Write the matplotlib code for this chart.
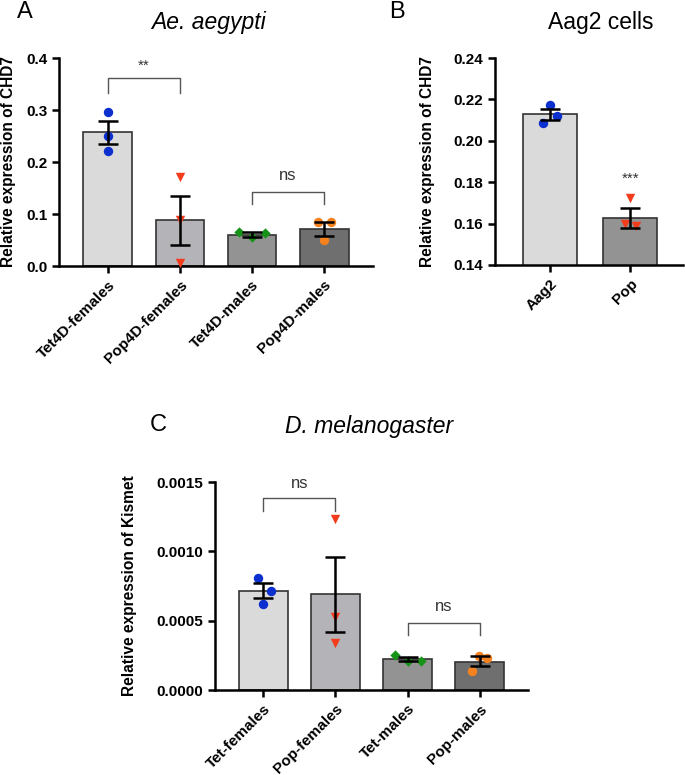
import matplotlib
matplotlib.use("Agg")
import matplotlib.pyplot as plt

plt.rcParams['font.family'] = ['Liberation Sans', 'DejaVu Sans']

# ---------------- data ----------------
# Panel A: Ae. aegypti
a_labels = ["Tet4D-females", "Pop4D-females", "Tet4D-males", "Pop4D-males"]
a_means = [0.257, 0.088, 0.060, 0.071]
a_sem_lo = [0.234, 0.041, 0.056, 0.058]
a_sem_hi = [0.278, 0.134, 0.065, 0.084]
a_points = [[0.297, 0.250, 0.222],
            [0.172, 0.088, 0.005],
            [0.066, 0.055, 0.064],
            [0.084, 0.084, 0.050]]
a_jitter = [[0, 0, 0], [0, 0, 0], [-0.18, 0, 0.18], [-0.09, 0.1, 0]]

# Panel B: Aag2 cells
b_labels = ["Aag2", "Pop"]
b_means = [0.2128, 0.1627]
b_sem_lo = [0.2100, 0.1580]
b_sem_hi = [0.2155, 0.1675]
b_points = [[0.2175, 0.2118, 0.2086],
            [0.1725, 0.1600, 0.1590]]
b_jitter = [[0, 0.08, -0.09], [0, -0.07, 0.07]]

# Panel C: D. melanogaster
c_labels = ["Tet-females", "Pop-females", "Tet-males", "Pop-males"]
c_means = [0.000714, 0.000693, 0.000224, 0.000202]
c_sem_lo = [0.00066, 0.00042, 0.000212, 0.000170]
c_sem_hi = [0.00077, 0.00096, 0.000236, 0.000242]
c_points = [[0.000808, 0.000714, 0.000620],
            [0.001234, 0.000527, 0.000339],
            [0.000250, 0.000210, 0.000212],
            [0.000245, 0.000232, 0.000137]]
c_jitter = [[-0.07, 0.1, 0], [0, 0, 0], [-0.18, 0, 0.18], [-0.01, 0.1, -0.1]]

# ---------------- style ----------------
fill4 = ["#dadada", "#b4b4b8", "#939393", "#6f6f6f"]
fill2 = ["#dadada", "#939393"]
pt_colors4 = ["#0c2fcf", "#f23c1c", "#179317", "#f5821f"]
pt_markers4 = ["o", "v", "D", "o"]
pt_sizes4 = [46, 46, 28, 46]
pt_colors2 = ["#0c2fcf", "#f23c1c"]
pt_markers2 = ["o", "v"]

W, H = 685, 775
fig = plt.figure(figsize=(W / 100, H / 100), dpi=100)


def rect(left, top, right, bottom):
    return [left / W, 1 - bottom / H, (right - left) / W, (bottom - top) / H]


def style_axes(ax):
    for s in ["top", "right"]:
        ax.spines[s].set_visible(False)
    for s in ["left", "bottom"]:
        ax.spines[s].set_linewidth(1.8)
    ax.tick_params(axis="both", direction="out", length=5, width=1.8,
                   labelsize=11)
    for lab in ax.get_yticklabels() + ax.get_xticklabels():
        lab.set_fontweight("bold")


def draw_panel(ax, labels, means, lo, hi, points, jitter, fills, colors,
               markers, sizes):
    x = list(range(len(labels)))
    ax.bar(x, means, width=0.68, color=fills, edgecolor="#333333",
           linewidth=1.2, zorder=2)
    for i in x:
        xs = [i + j for j in jitter[i]]
        ax.scatter(xs, points[i], s=sizes[i], marker=markers[i],
                   color=colors[i], zorder=3, clip_on=False, linewidths=0)
        ax.errorbar([i], [means[i]],
                    yerr=[[means[i] - lo[i]], [hi[i] - means[i]]],
                    fmt="none", ecolor="black", elinewidth=1.8,
                    capsize=7, capthick=1.8, zorder=4)
    ax.set_xticks(x)
    ax.set_xticklabels(labels, rotation=45, ha="right",
                       rotation_mode="anchor")


def bracket(ax, x1, x2, ytop, yleg, text, ytext, fs=12):
    ax.plot([x1, x1, x2, x2], [yleg, ytop, ytop, yleg], color="#555555",
            linewidth=1.0, zorder=5, clip_on=False)
    ax.text((x1 + x2) / 2, ytext, text, ha="center", va="center",
            fontsize=fs, color="#333333")


# Panel A
axA = fig.add_axes(rect(59, 58, 373, 266))
draw_panel(axA, a_labels, a_means, a_sem_lo, a_sem_hi, a_points, a_jitter,
           fill4, pt_colors4, pt_markers4, pt_sizes4)
axA.set_xlim(-0.68, 3.68)
axA.set_ylim(0, 0.4)
axA.set_yticks([0.0, 0.1, 0.2, 0.3, 0.4])
axA.set_yticklabels(["0.0", "0.1", "0.2", "0.3", "0.4"])
axA.set_ylabel("Relative expression of CHD7", fontsize=11.2,
               fontweight="bold")
axA.yaxis.set_label_coords(-0.138, 0.5)
style_axes(axA)
bracket(axA, 0, 1, 0.362, 0.333, "**", 0.385, fs=11)
bracket(axA, 2, 3, 0.142, 0.119, "ns", 0.175)

# Panel B
axB = fig.add_axes(rect(495, 58, 683, 265))
draw_panel(axB, b_labels, b_means, b_sem_lo, b_sem_hi, b_points, b_jitter,
           fill2, pt_colors2, pt_markers2, [46, 46])
axB.set_xlim(-0.69, 1.66)
axB.set_ylim(0.14, 0.24)
axB.set_yticks([0.14, 0.16, 0.18, 0.20, 0.22, 0.24])
axB.set_yticklabels(["0.14", "0.16", "0.18", "0.20", "0.22", "0.24"])
axB.set_ylabel("Relative expression of CHD7", fontsize=11.2,
               fontweight="bold")
axB.yaxis.set_label_coords(-0.32, 0.5)
style_axes(axB)
axB.text(1, 0.1815, "***", ha="center", va="center", fontsize=11,
         color="#333333")

# Panel C
axC = fig.add_axes(rect(215, 482, 528, 690))
draw_panel(axC, c_labels, c_means, c_sem_lo, c_sem_hi, c_points, c_jitter,
           fill4, pt_colors4, pt_markers4, pt_sizes4)
axC.set_xlim(-0.67, 3.67)
axC.set_ylim(0, 0.0015)
axC.set_yticks([0.0, 0.0005, 0.0010, 0.0015])
axC.set_yticklabels(["0.0000", "0.0005", "0.0010", "0.0015"])
axC.set_ylabel("Relative expression of Kismet", fontsize=11.2,
               fontweight="bold")
axC.yaxis.set_label_coords(-0.25, 0.5)
style_axes(axC)
bracket(axC, 0, 1, 0.001385, 0.00129, "ns", 0.00149)
bracket(axC, 2, 3, 0.000483, 0.000397, "ns", 0.0006)

# Titles and panel letters
fig.text(208 / W, 1 - 23 / H, "Ae. aegypti", ha="center", va="center",
         fontsize=16.5, style="italic")
fig.text(601 / W, 1 - 23 / H, "Aag2 cells", ha="center", va="center",
         fontsize=16.5)
fig.text(369 / W, 1 - 426 / H, "D. melanogaster", ha="center",
         va="center", fontsize=16.5, style="italic")
fig.text(25 / W, 1 - 12 / H, "A", ha="center", va="center", fontsize=17)
fig.text(397 / W, 1 - 12 / H, "B", ha="center", va="center", fontsize=17)
fig.text(158 / W, 1 - 425 / H, "C", ha="center", va="center", fontsize=17)

fig.savefig("out.png", dpi=100)
